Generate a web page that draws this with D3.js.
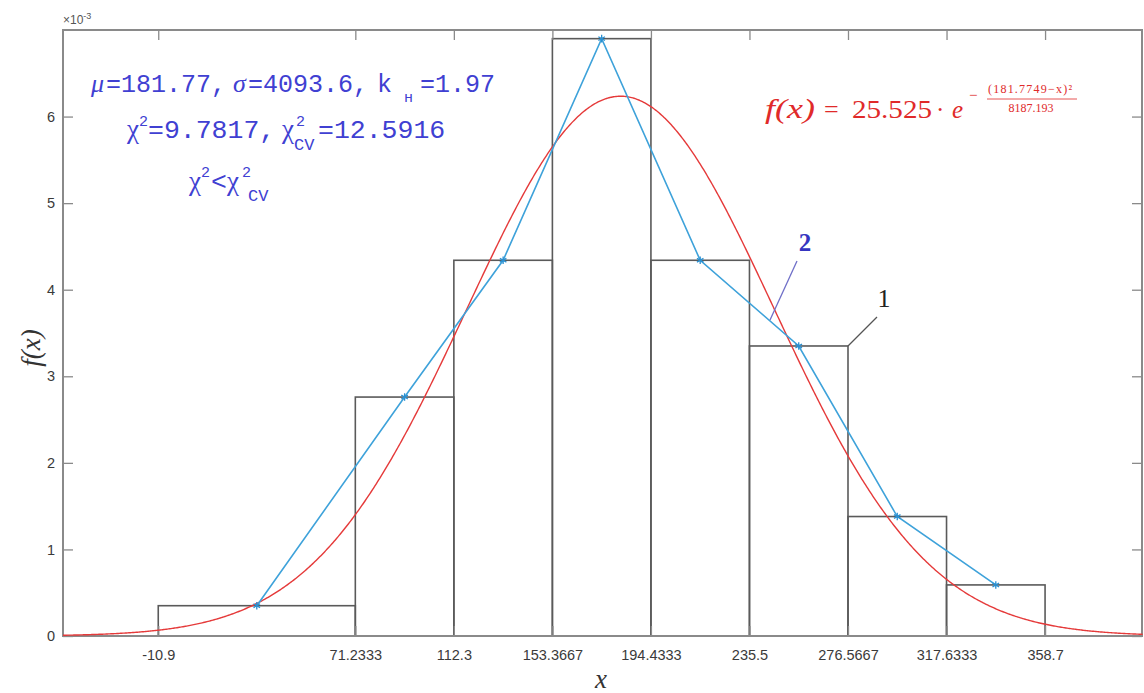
<!DOCTYPE html>
<html>
<head>
<meta charset="utf-8">
<script src="https://cdn.jsdelivr.net/npm/d3@7"></script>
<style>
  html, body { margin: 0; padding: 0; background: #fff; }
  svg { display: block; }
</style>
</head>
<body>
<svg id="chart" width="1144" height="693"></svg>
<script>
// Histogram bin edges and the printed tick labels
const binEdges = [-10.9, 71.2333, 112.3, 153.3667, 194.4333, 235.5, 276.5667, 317.6333, 358.7];
const tickLabels = ["-10.9", "71.2333", "112.3", "153.3667", "194.4333", "235.5", "276.5667", "317.6333", "358.7"];
// Relative frequency density of each bin (units of 1e-3)
const binDensity = [0.35, 2.76, 4.34, 6.90, 4.34, 3.35, 1.38, 0.59];
// Frequency polygon: bin mid-points and their densities (units of 1e-3)
const polyX = [30.1667, 91.7667, 132.8333, 173.9, 214.9667, 256.0333, 297.1, 338.1667];
const polyY = [0.35, 2.76, 4.34, 6.90, 4.34, 3.35, 1.38, 0.59];
// Fitted normal curve parameters
const mu = 181.7749;
const twoSigmaSq = 8187.193;
const yTicks = [0, 1, 2, 3, 4, 5, 6];

const svg = d3.select("#chart");
const x = d3.scaleLinear().domain([-50.6, 399.1]).range([63, 1142]);
const y = d3.scaleLinear().domain([0, 7]).range([636, 30]);

const axisColor = "#8a8a8a";
const tickFont = "'Liberation Sans', Arial, sans-serif";

// Bars of the histogram
const bars = binDensity.map((d, i) => ({ x0: binEdges[i], x1: binEdges[i + 1], v: d }));
svg.append("g").selectAll("rect").data(bars).join("rect")
  .attr("x", d => x(d.x0))
  .attr("y", d => y(d.v))
  .attr("width", d => x(d.x1) - x(d.x0))
  .attr("height", d => y(0) - y(d.v))
  .attr("fill", "none")
  .attr("stroke", "#5a5a5a")
  .attr("stroke-width", 1.6);

// Axes with inward ticks on all four sides
function styleAxis(g) {
  g.select(".domain").remove();
  g.selectAll(".tick line").attr("stroke", axisColor).attr("stroke-width", 1.3);
  g.selectAll(".tick text").attr("fill", "#3a3a3a").style("font-family", tickFont).style("font-size", "14.5px");
}
svg.append("g").attr("transform", "translate(0,636)")
  .call(d3.axisBottom(x).tickValues(binEdges).tickSize(-10).tickPadding(14)
    .tickFormat((d, i) => tickLabels[i]))
  .call(styleAxis);
svg.append("g").attr("transform", "translate(0,30)")
  .call(d3.axisTop(x).tickValues(binEdges).tickSize(-10).tickFormat(""))
  .call(styleAxis);
svg.append("g").attr("transform", "translate(63,0)")
  .call(d3.axisLeft(y).tickValues(yTicks).tickSize(-10).tickPadding(8).tickFormat(d3.format("d")))
  .call(styleAxis);
svg.append("g").attr("transform", "translate(1142,0)")
  .call(d3.axisRight(y).tickValues(yTicks).tickSize(-10).tickFormat(""))
  .call(styleAxis);

// Box around the plotting area
svg.append("rect")
  .attr("x", x.range()[0]).attr("y", y.range()[1])
  .attr("width", x.range()[1] - x.range()[0])
  .attr("height", y.range()[0] - y.range()[1])
  .attr("fill", "none").attr("stroke", axisColor).attr("stroke-width", 2);

// Exponent marker of the y axis
const expo = svg.append("text").attr("x", 63).attr("y", 24)
  .style("font-family", tickFont).style("font-size", "12px").attr("fill", "#555");
expo.append("tspan").text("\u00d710");
expo.append("tspan").attr("dy", -5).style("font-size", "9px").text("-3");

// Fitted normal density
const amp = 1e3 / Math.sqrt(Math.PI * twoSigmaSq);
const curveX = d3.range(x.domain()[0], x.domain()[1] + 0.5, 0.5);
const line = d3.line().x(d => x(d[0])).y(d => y(d[1]));
svg.append("path")
  .datum(curveX.map(v => [v, amp * Math.exp(-((mu - v) ** 2) / twoSigmaSq)]))
  .attr("d", line)
  .attr("fill", "none").attr("stroke", "#e53a3a").attr("stroke-width", 1.4);

// Frequency polygon with asterisk markers
const poly = polyX.map((v, i) => [v, polyY[i]]);
svg.append("path").datum(poly).attr("d", line)
  .attr("fill", "none").attr("stroke", "#3ea2da").attr("stroke-width", 1.6);
svg.append("g").selectAll("path").data(poly).join("path")
  .attr("transform", d => `translate(${x(d[0])},${y(d[1])})`)
  .attr("d", d3.symbol(d3.symbolAsterisk, 40))
  .attr("fill", "none").attr("stroke", "#2a8fd0").attr("stroke-width", 1.3);

// Axis titles
const serif = "'Liberation Serif', 'DejaVu Serif', serif";
svg.append("text").attr("transform", "translate(40,348) rotate(-90)")
  .attr("text-anchor", "middle").style("font-family", serif).style("font-style", "italic")
  .style("font-size", "27px").attr("fill", "#333").text("f(x)");
svg.append("text").attr("x", 601).attr("y", 688)
  .attr("text-anchor", "middle").style("font-family", serif).style("font-style", "italic")
  .style("font-size", "27px").attr("fill", "#333").text("x");

// Statistics annotation
const blue = "#4040d2";
const mono = "'Liberation Mono', 'Courier New', monospace";
const stats = svg.append("g").attr("fill", blue);
function put(txt, px, py, size, family, italic) {
  stats.append("text").attr("x", px).attr("y", py)
    .style("font-family", family).style("font-size", size + "px")
    .style("font-style", italic ? "italic" : "normal").text(txt);
}
// line 1
put("\u03bc", 91, 92, 26, serif, true);
put("=181.77,", 106, 92, 25, mono);
put("\u03c3", 233, 92, 26, serif, true);
put("=4093.6,", 248, 92, 25, mono);
put("k", 377, 92, 25, mono);
put("\u043d", 404, 102, 15, mono);
put("=1.97", 420, 92, 25, mono);
// line 2
put("\u03c7", 127, 138, 27, serif, false);
put("2", 139, 126, 15, mono);
put("=9.7817,", 148, 138, 26.5, mono);
put("\u03c7", 282, 138, 27, serif, false);
put("2", 296, 126, 15, mono);
put("CV", 294, 150, 17, mono);
put("=12.5916", 318, 138, 26.5, mono);
// line 3
put("\u03c7", 189, 190, 27, serif, false);
put("2", 201, 177, 15, mono);
put("<", 211, 190, 26.5, mono);
put("\u03c7", 227, 190, 27, serif, false);
put("2", 242, 177, 15, mono);
put("CV", 248, 201, 17, mono);

// Fitted curve formula
const red = "#e02a2a";
const fg = svg.append("g").attr("fill", red).style("font-family", serif);
fg.append("text").attr("x", 765).attr("y", 118).style("font-style", "italic").style("font-size", "27px")
  .attr("textLength", 50).attr("lengthAdjust", "spacingAndGlyphs").text("f(x)");
fg.append("text").attr("x", 824).attr("y", 118).style("font-size", "26px").text("=");
fg.append("text").attr("x", 852).attr("y", 118).style("font-size", "25px")
  .attr("textLength", 80).attr("lengthAdjust", "spacingAndGlyphs").text("25.525");
fg.append("text").attr("x", 936).attr("y", 118).style("font-size", "25px").text("\u00b7");
fg.append("text").attr("x", 952).attr("y", 118).style("font-style", "italic").style("font-size", "25px").text("e");
fg.append("text").attr("x", 969).attr("y", 100).style("font-size", "15px").text("\u2212");
fg.append("text").attr("x", 1030).attr("y", 93).attr("text-anchor", "middle").style("font-size", "12px")
  .attr("textLength", 84).attr("lengthAdjust", "spacing").text("(181.7749\u2212x)\u00b2");
fg.append("line").attr("x1", 987).attr("x2", 1077).attr("y1", 99).attr("y2", 99)
  .attr("stroke", red).attr("stroke-width", 0.8);
fg.append("text").attr("x", 1031).attr("y", 112).attr("text-anchor", "middle").style("font-size", "12px")
  .text("8187.193");

// Callout labels
svg.append("line").attr("x1", 797).attr("y1", 261).attr("x2", 770).attr("y2", 320)
  .attr("stroke", "#6f6fc8").attr("stroke-width", 1.3);
svg.append("text").attr("x", 805).attr("y", 251).attr("text-anchor", "middle")
  .style("font-family", serif).style("font-weight", "bold").style("font-size", "25px")
  .attr("fill", "#3535c0").text("2");
svg.append("line").attr("x1", 877).attr("y1", 317).attr("x2", 848).attr("y2", 346)
  .attr("stroke", "#555").attr("stroke-width", 1.3);
svg.append("text").attr("x", 884).attr("y", 307).attr("text-anchor", "middle")
  .style("font-family", serif).style("font-size", "26px")
  .attr("fill", "#222").text("1");
</script>
</body>
</html>
